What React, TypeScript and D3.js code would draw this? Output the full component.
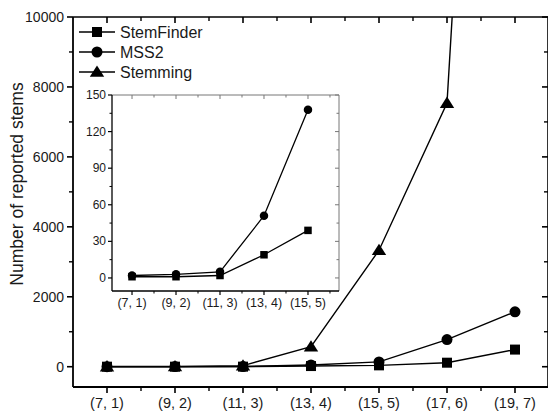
import * as d3 from "d3";

const categories = ["(7, 1)", "(9, 2)", "(11, 3)", "(13, 4)", "(15, 5)", "(17, 6)", "(19, 7)"];
const stemFinder = [1, 1, 2, 19, 39, 115, 490];
const mss2 = [2, 3, 5, 51, 138, 775, 1570];
const stemming = [5, 8, 30, 575, 3330, 7540, 40000];

const insetCategories = categories.slice(0, 5);
const insetStemFinder = stemFinder.slice(0, 5);
const insetMss2 = mss2.slice(0, 5);

const yTicks = [0, 2000, 4000, 6000, 8000, 10000];
const yMinor = [1000, 3000, 5000, 7000, 9000];
const insetTicks = [0, 30, 60, 90, 120, 150];
const insetMinor = [15, 45, 75, 105, 135];

const font = "Arial, 'Liberation Sans', sans-serif";
const ink = "#1a1a1a";

type Shape = "square" | "circle" | "triangle";

function Marker({ shape, x, y, s }: { shape: Shape; x: number; y: number; s: number }) {
  if (shape === "square") return <rect x={x - s / 2} y={y - s / 2} width={s} height={s} fill="#000" />;
  if (shape === "circle") return <circle cx={x} cy={y} r={s / 2 + 0.5} fill="#000" />;
  const h = s * 0.9;
  return <path d={`M${x},${y - h * 0.6}L${x + s * 0.6},${y + h * 0.45}L${x - s * 0.6},${y + h * 0.45}Z`} fill="#000" />;
}

export default function App() {
  const W = 548, H = 413;
  const left = 73, right = 549, top = 17, bottom = 387;
  const x = d3.scaleLinear().domain([-0.5, 6.5]).range([left, right]);
  const y = d3.scaleLinear().domain([-580, 10000]).range([bottom, top]);

  const iL = 112, iR = 339, iT = 95, iB = 291;
  const ix = d3.scaleLinear().domain([-0.455, 4.705]).range([iL, iR]);
  const iy = d3.scaleLinear().domain([-10.7, 150]).range([iB, iT]);

  const line = d3.line<number>().x((_, i) => x(i)).y((d) => y(d));
  const iline = d3.line<number>().x((_, i) => ix(i)).y((d) => iy(d));

  const series: { name: string; data: number[]; shape: Shape }[] = [
    { name: "StemFinder", data: stemFinder, shape: "square" },
    { name: "MSS2", data: mss2, shape: "circle" },
    { name: "Stemming", data: stemming, shape: "triangle" },
  ];
  const insetSeries: { data: number[]; shape: Shape }[] = [
    { data: insetStemFinder, shape: "square" },
    { data: insetMss2, shape: "circle" },
  ];

  const minorX = d3.range(categories.length + 1).map((i) => i - 0.5).filter((v) => v > -0.5 && v < 6.5);
  const iMinorX = d3.range(insetCategories.length).map((i) => i + 0.5);

  return (
    <svg width={W} height={H} style={{ position: "absolute", left: 0, top: 0, background: "#fff" }} fontFamily={font} fill={ink}>
      <defs>
        <clipPath id="plot">
          <rect x={left} y={top} width={right - left} height={bottom - top} />
        </clipPath>
      </defs>

      {/* main series */}
      <g clipPath="url(#plot)">
        {series.map((s) => (
          <g key={s.name}>
            <path d={line(s.data) ?? ""} fill="none" stroke="#000" strokeWidth={1.4} />
            {s.data.map((d, i) => (
              <Marker key={i} shape={s.shape} x={x(i)} y={y(d)} s={s.shape === "triangle" ? 12 : 10} />
            ))}
          </g>
        ))}
      </g>

      {/* main frame */}
      <line x1={left} x2={left} y1={top} y2={bottom} stroke="#000" strokeWidth={1.8} />
      <line x1={left} x2={right} y1={bottom} y2={bottom} stroke="#000" strokeWidth={1.8} />
      <line x1={left} x2={right} y1={top} y2={top} stroke="#000" strokeWidth={1.6} />
      <line x1={right - 1} x2={right - 1} y1={top} y2={bottom} stroke="#000" strokeWidth={1.6} />

      {yTicks.map((t) => (
        <g key={t}>
          <line x1={left - 6} x2={left} y1={y(t)} y2={y(t)} stroke="#000" strokeWidth={1.6} />
          <line x1={right - 7} x2={right} y1={y(t)} y2={y(t)} stroke="#000" strokeWidth={1.6} />
          <text x={left - 9} y={y(t)} textAnchor="end" dominantBaseline="central" fontSize={14}>{t}</text>
        </g>
      ))}
      {yMinor.map((t) => (
        <g key={t}>
          <line x1={left - 4} x2={left} y1={y(t)} y2={y(t)} stroke="#000" strokeWidth={1.4} />
          <line x1={right - 5} x2={right} y1={y(t)} y2={y(t)} stroke="#000" strokeWidth={1.4} />
        </g>
      ))}
      {categories.map((c, i) => (
        <g key={c}>
          <line x1={x(i)} x2={x(i)} y1={bottom} y2={bottom + 6} stroke="#000" strokeWidth={1.6} />
          <line x1={x(i)} x2={x(i)} y1={top} y2={top + 6} stroke="#000" strokeWidth={1.6} />
          <text x={x(i)} y={bottom + 11} textAnchor="middle" dominantBaseline="hanging" fontSize={14.5}>{c}</text>
        </g>
      ))}
      {minorX.map((v) => (
        <g key={v}>
          <line x1={x(v)} x2={x(v)} y1={bottom} y2={bottom + 4} stroke="#000" strokeWidth={1.4} />
          <line x1={x(v)} x2={x(v)} y1={top} y2={top + 4} stroke="#000" strokeWidth={1.4} />
        </g>
      ))}

      <text transform={`translate(17,184) rotate(-90)`} textAnchor="middle" dominantBaseline="central" fontSize={17.5}>
        Number of reported stems
      </text>

      {/* legend */}
      {series.map((s, i) => {
        const ly = 32 + i * 20;
        return (
          <g key={s.name}>
            <line x1={79} x2={115} y1={ly} y2={ly} stroke="#000" strokeWidth={1.6} />
            <Marker shape={s.shape} x={97} y={ly} s={s.shape === "triangle" ? 12 : 10} />
            <text x={120} y={ly} dominantBaseline="central" fontSize={16}>{s.name}</text>
          </g>
        );
      })}

      {/* inset */}
      <rect x={iL} y={iT} width={iR - iL} height={iB - iT} fill="#fff" />
      <line x1={iL} x2={iR} y1={iT} y2={iT} stroke="#777" strokeWidth={1} />
      <line x1={iR} x2={iR} y1={iT} y2={iB} stroke="#777" strokeWidth={1} />
      <line x1={iL} x2={iL} y1={iT} y2={iB} stroke="#000" strokeWidth={1.3} />
      <line x1={iL} x2={iR} y1={iB} y2={iB} stroke="#000" strokeWidth={1.3} />
      {insetTicks.map((t) => (
        <g key={t}>
          <line x1={iL - 4} x2={iL} y1={iy(t)} y2={iy(t)} stroke="#000" strokeWidth={1.2} />
          <line x1={iR - 4} x2={iR} y1={iy(t)} y2={iy(t)} stroke="#777" strokeWidth={1} />
          <text x={iL - 6} y={iy(t)} textAnchor="end" dominantBaseline="central" fontSize={12}>{t}</text>
        </g>
      ))}
      {insetMinor.map((t) => (
        <g key={t}>
          <line x1={iL - 2.5} x2={iL} y1={iy(t)} y2={iy(t)} stroke="#000" strokeWidth={1} />
          <line x1={iR - 2.5} x2={iR} y1={iy(t)} y2={iy(t)} stroke="#777" strokeWidth={1} />
        </g>
      ))}
      {insetCategories.map((c, i) => (
        <g key={c}>
          <line x1={ix(i)} x2={ix(i)} y1={iB} y2={iB + 4} stroke="#000" strokeWidth={1.2} />
          <line x1={ix(i)} x2={ix(i)} y1={iT} y2={iT + 4} stroke="#777" strokeWidth={1} />
          <text x={ix(i)} y={iB + 7} textAnchor="middle" dominantBaseline="hanging" fontSize={12.5}>{c}</text>
        </g>
      ))}
      {iMinorX.map((v) => (
        <g key={v}>
          <line x1={ix(v)} x2={ix(v)} y1={iB} y2={iB + 2.5} stroke="#000" strokeWidth={1} />
          <line x1={ix(v)} x2={ix(v)} y1={iT} y2={iT + 2.5} stroke="#777" strokeWidth={1} />
        </g>
      ))}
      {insetSeries.map((s, k) => (
        <g key={k}>
          <path d={iline(s.data) ?? ""} fill="none" stroke="#000" strokeWidth={1.3} />
          {s.data.map((d, i) => (
            <Marker key={i} shape={s.shape} x={ix(i)} y={iy(d)} s={7.5} />
          ))}
        </g>
      ))}
    </svg>
  );
}
